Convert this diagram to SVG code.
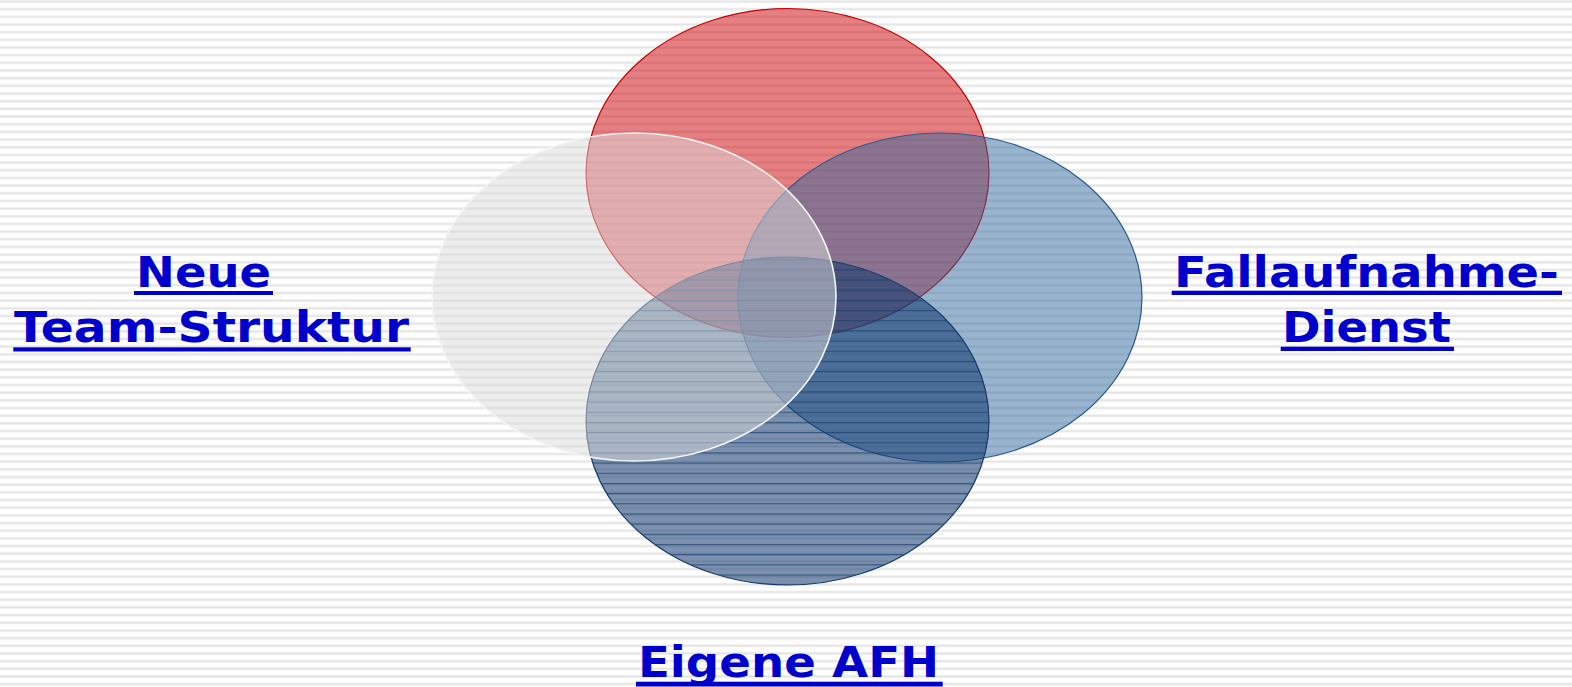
<svg xmlns="http://www.w3.org/2000/svg" width="1572" height="687" viewBox="0 0 1572 687">
<style>
.lbl{font-family:"DejaVu Sans","Verdana","Liberation Sans",sans-serif;font-weight:bold;font-size:42px;fill:#0000CC}
.ul{fill:#0000CC}
</style>
<defs>
<pattern id="bgStripes" patternUnits="userSpaceOnUse" x="0" y="0" width="20" height="7.67">
<rect x="0" y="0" width="20" height="7.67" fill="#ffffff"/>
<rect x="0" y="0" width="20" height="3" fill="#f1f1f1"/>
<rect x="0" y="0.8" width="20" height="1.4" fill="#e4e4e4"/>
</pattern>
<pattern id="bottomLines" patternUnits="userSpaceOnUse" x="0" y="381.2" width="20" height="10.17">
<rect x="0" y="0" width="20" height="1.2" fill="#1a3f6b" fill-opacity="0.7"/>
</pattern>
</defs>
<rect x="0" y="0" width="1572" height="687" fill="url(#bgStripes)"/>
<g id="node-red">
<ellipse cx="787.5" cy="173" rx="201.5" ry="164.5" fill="#cd0005" fill-opacity="0.5" stroke="#c00000" stroke-width="1.2"/>
</g>
<g id="node-right">
<ellipse cx="940" cy="297.5" rx="202" ry="164.5" fill="#326aa0" fill-opacity="0.5" stroke="#2a5a8f" stroke-width="1.2"/>
</g>
<g id="node-bottom">
<ellipse cx="787.5" cy="421" rx="201.5" ry="164" fill="#0f376e" fill-opacity="0.55" stroke="#163d6c" stroke-width="1.2"/>
<ellipse cx="787.5" cy="421" rx="201.5" ry="164" fill="url(#bottomLines)"/>
</g>
<g id="node-left">
<ellipse cx="634" cy="297" rx="202" ry="164" fill="#dcdcdc" fill-opacity="0.5" stroke="#f4f4f4" stroke-width="1.6"/>
</g>
<g id="connectors"></g>
<g id="label-neue">
<text class="lbl" transform="translate(136,287) scale(1.12,1)" textLength="120.5" lengthAdjust="spacingAndGlyphs">Neue</text>
<rect class="ul" x="134" y="291" width="139" height="4"/>
<text class="lbl" transform="translate(14,341.5) scale(1.12,1)" textLength="352.7" lengthAdjust="spacingAndGlyphs">Team-Struktur</text>
<rect class="ul" x="13.3" y="347.3" width="397.4" height="4.2"/>
</g>
<g id="label-fall">
<text class="lbl" transform="translate(1174,287) scale(1.12,1)" textLength="343.7" lengthAdjust="spacingAndGlyphs">Fallaufnahme-</text>
<rect class="ul" x="1171.7" y="290.7" width="390.3" height="4.3"/>
<text class="lbl" transform="translate(1282,341.5) scale(1.12,1)" textLength="150.9" lengthAdjust="spacingAndGlyphs">Dienst</text>
<rect class="ul" x="1280.7" y="346.7" width="173.3" height="4.3"/>
</g>
<g id="label-afh">
<text class="lbl" transform="translate(638,677) scale(1.12,1)" textLength="268.8" lengthAdjust="spacingAndGlyphs">Eigene AFH</text>
<rect class="ul" x="636" y="681.7" width="306.7" height="4.8"/>
</g>
</svg>
